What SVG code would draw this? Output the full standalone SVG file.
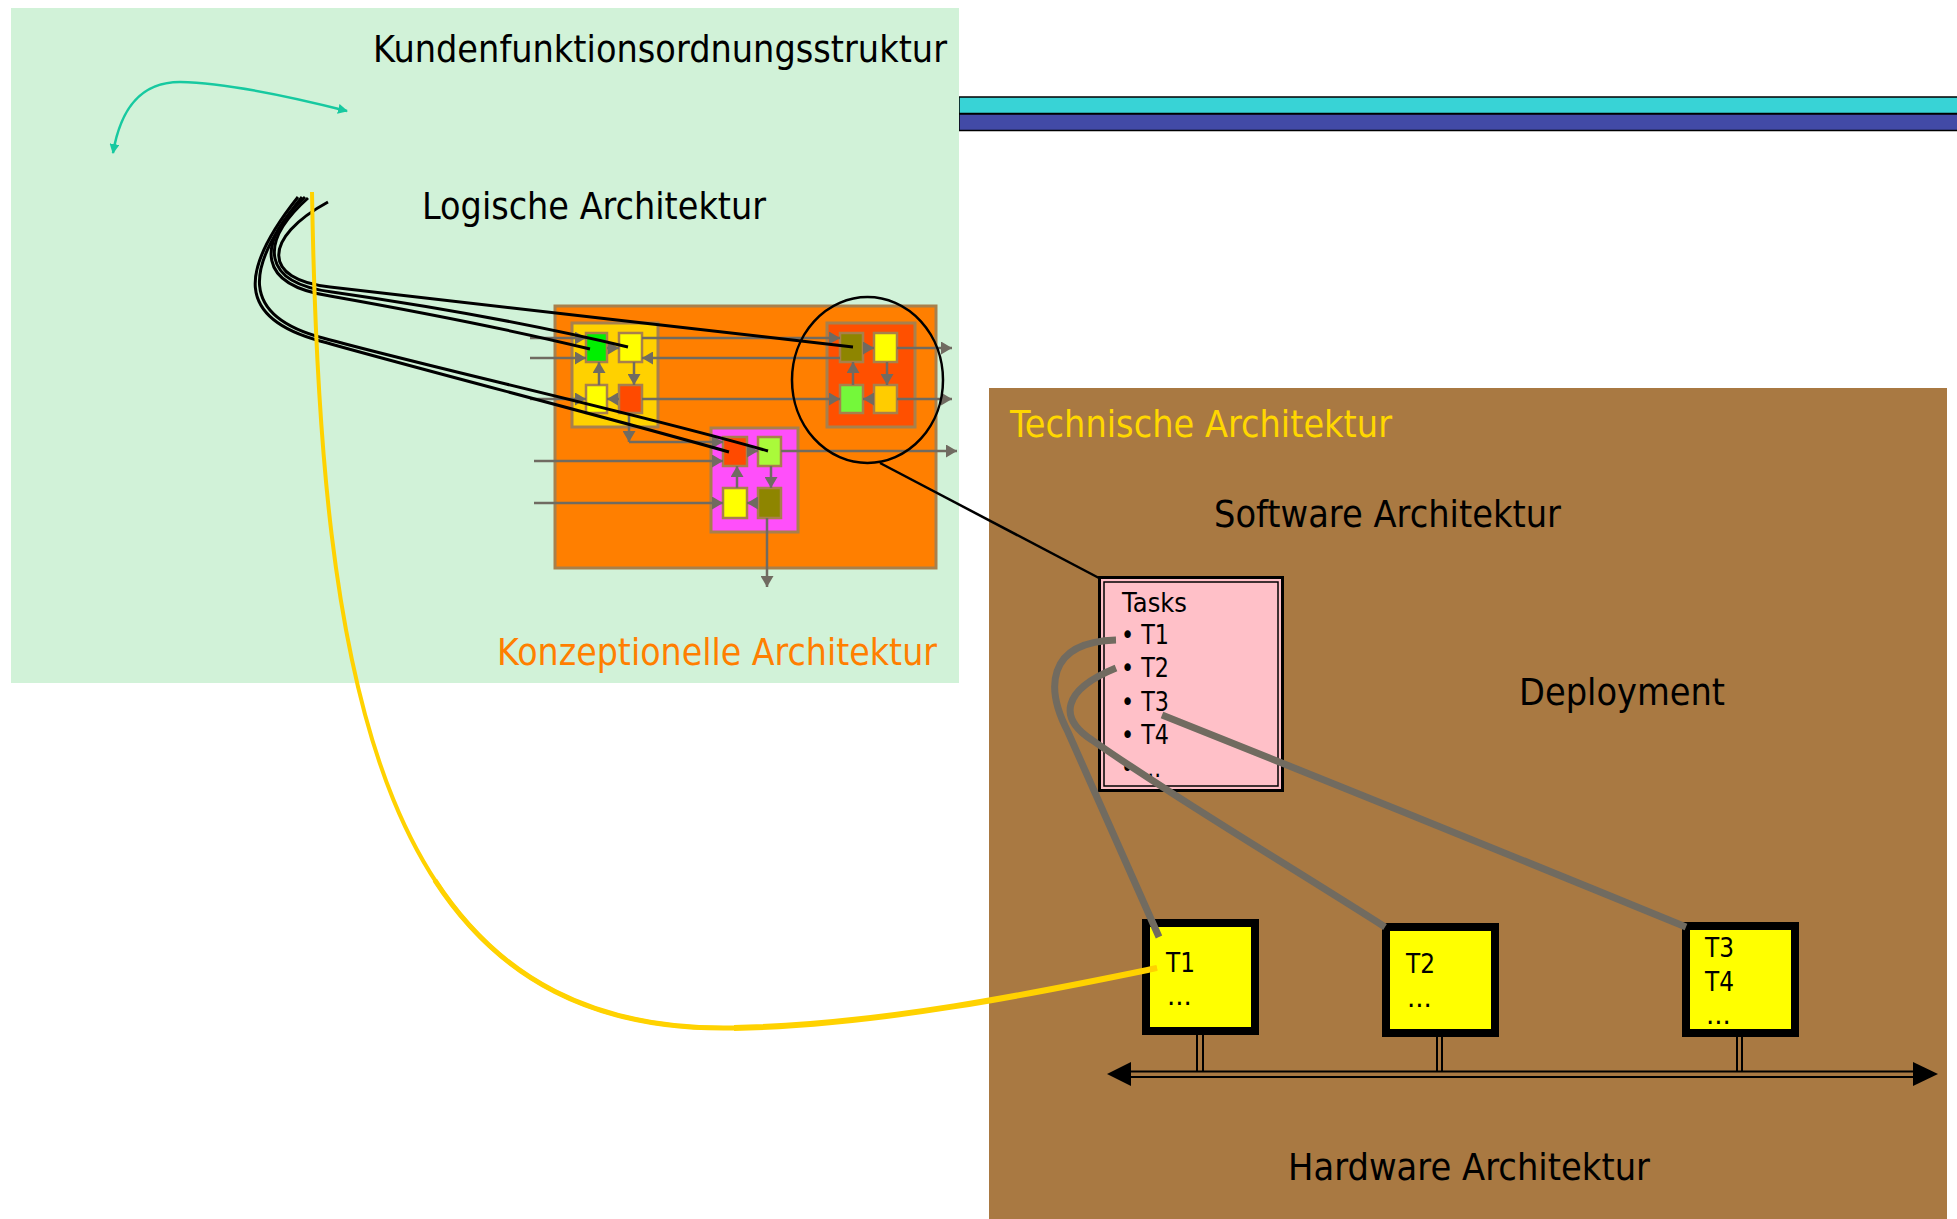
<svg xmlns="http://www.w3.org/2000/svg" width="1957" height="1219" viewBox="0 0 1957 1219">
<style>
text{font-family:"DejaVu Sans","Liberation Sans",sans-serif;}
.big{font-size:38px;fill:#000;}
.sm{font-size:26px;fill:#000;}
.ga{stroke:#706B61;stroke-width:2.5;fill:none;}
.blk{stroke:#000;stroke-width:3;fill:none;}
.gth{stroke:#716B60;stroke-width:7;fill:none;}
.cell{stroke:#A8804C;stroke-width:2.5;}
.sub{stroke:#A8804C;stroke-width:3;}
.hw{fill:#FFFF00;stroke:#000;stroke-width:8;}
.bus{stroke:#000;stroke-width:2;fill:none;}
.yl{fill:none;stroke:#FFD200;}
</style>
<defs>
<marker id="ah" markerUnits="userSpaceOnUse" markerWidth="11" markerHeight="13" refX="11" refY="6.5" orient="auto">
<path d="M0,0 L11,6.5 L0,13 z" fill="#706B61"/>
</marker>
<marker id="tah" markerUnits="userSpaceOnUse" markerWidth="10" markerHeight="10" refX="9" refY="5" orient="auto-start-reverse">
<path d="M0,0 L10,5 L0,10 z" fill="#17C9A0"/>
</marker>
</defs>

<rect width="1957" height="1219" fill="#FFFFFF"/>

<!-- top bars -->
<g id="bars">
<rect x="959" y="97" width="1000" height="16.5" fill="#38D3D6" stroke="#000" stroke-width="1.5"/>
<rect x="959" y="114" width="1000" height="16.5" fill="#424AA6" stroke="#000" stroke-width="1.5"/>
</g>

<!-- green region -->
<g id="kundenfunktion">
<rect x="11" y="8" width="948" height="675" fill="#D1F2D8"/>
<text class="big" x="373" y="62" textLength="574" lengthAdjust="spacingAndGlyphs">Kundenfunktionsordnungsstruktur</text>
<text class="big" x="422" y="219" textLength="344" lengthAdjust="spacingAndGlyphs">Logische Architektur</text>
<text class="big" x="497" y="665" textLength="440" lengthAdjust="spacingAndGlyphs" style="fill:#FF7F00">Konzeptionelle Architektur</text>
</g>

<!-- brown region -->
<g id="technisch">
<rect x="989" y="388" width="958" height="831" fill="#A97942"/>
<text class="big" x="1010" y="437" textLength="382" lengthAdjust="spacingAndGlyphs" style="fill:#FFD700">Technische Architektur</text>
<text class="big" x="1214" y="527" textLength="347" lengthAdjust="spacingAndGlyphs">Software Architektur</text>
<text class="big" x="1519" y="705" textLength="206" lengthAdjust="spacingAndGlyphs">Deployment</text>
<text class="big" x="1288" y="1180" textLength="362" lengthAdjust="spacingAndGlyphs">Hardware Architektur</text>
</g>

<!-- conceptual architecture -->
<g id="konzept">
<rect x="555" y="306" width="381" height="262" fill="#FF7F00" stroke="#A8804C" stroke-width="3"/>
<g id="sub-gold">
<rect class="sub" x="572" y="323" width="86" height="104" fill="#FFD100"/>
<rect class="cell" x="586" y="333" width="21" height="29" fill="#00F000"/>
<rect class="cell" x="619" y="333" width="23" height="29" fill="#FFFF00"/>
<rect class="cell" x="586" y="385" width="21" height="28" fill="#FFFF00"/>
<rect class="cell" x="619" y="385" width="23" height="28" fill="#FF4A00"/>
</g>
<g id="sub-red">
<rect class="sub" x="827" y="323" width="88" height="104" fill="#FF5000"/>
<rect class="cell" x="840" y="333" width="23" height="29" fill="#8E8500"/>
<rect class="cell" x="874" y="333" width="23" height="29" fill="#FFFF00"/>
<rect class="cell" x="840" y="385" width="23" height="28" fill="#74F83A"/>
<rect class="cell" x="874" y="385" width="23" height="28" fill="#FFCC00"/>
</g>
<g id="sub-magenta">
<rect class="sub" x="711" y="428" width="87" height="104" fill="#FF4FFA"/>
<rect class="cell" x="723" y="437" width="24" height="29" fill="#FF4A00"/>
<rect class="cell" x="758" y="437" width="23" height="29" fill="#AAFA3A"/>
<rect class="cell" x="723" y="488" width="24" height="30" fill="#FFFF00"/>
<rect class="cell" x="758" y="488" width="23" height="30" fill="#8E8500"/>
</g>
</g>

<!-- Tasks node -->
<g id="tasks">
<rect x="1099.5" y="577.5" width="183" height="213" fill="#FFC0C8" stroke="#000" stroke-width="3"/>
<rect x="1104" y="582" width="174" height="204" fill="none" stroke="#000" stroke-width="1.5"/>
<text class="sm" x="1122" y="612" textLength="65" lengthAdjust="spacingAndGlyphs">Tasks</text>
<text class="sm" x="1121" y="644" textLength="48" lengthAdjust="spacingAndGlyphs">• T1</text>
<text class="sm" x="1121" y="677" textLength="48" lengthAdjust="spacingAndGlyphs">• T2</text>
<text class="sm" x="1121" y="711" textLength="48" lengthAdjust="spacingAndGlyphs">• T3</text>
<text class="sm" x="1121" y="744" textLength="48" lengthAdjust="spacingAndGlyphs">• T4</text>
<text class="sm" x="1121" y="777" textLength="40" lengthAdjust="spacingAndGlyphs">• ...</text>
</g>

<!-- hardware nodes -->
<g id="hw-t1">
<rect class="hw" x="1146" y="923" width="109" height="108"/>
<text class="sm" x="1166" y="972" textLength="29" lengthAdjust="spacingAndGlyphs">T1</text>
<text class="sm" x="1167" y="1005">...</text>
</g>
<g id="hw-t2">
<rect class="hw" x="1386" y="927" width="109" height="106"/>
<text class="sm" x="1406" y="973" textLength="29" lengthAdjust="spacingAndGlyphs">T2</text>
<text class="sm" x="1407" y="1007">...</text>
</g>
<g id="hw-t3">
<rect class="hw" x="1686" y="926" width="109" height="107"/>
<text class="sm" x="1705" y="957" textLength="29" lengthAdjust="spacingAndGlyphs">T3</text>
<text class="sm" x="1705" y="991" textLength="29" lengthAdjust="spacingAndGlyphs">T4</text>
<text class="sm" x="1706" y="1024">...</text>
</g>

<!-- bus -->
<g id="bus">
<line class="bus" x1="1128" y1="1071.5" x2="1916" y2="1071.5"/>
<line class="bus" x1="1128" y1="1077" x2="1916" y2="1077"/>
<polygon points="1107,1074 1131,1062 1131,1086" fill="#000"/>
<polygon points="1938,1074 1913,1062 1913,1086" fill="#000"/>
<line class="bus" x1="1197" y1="1035" x2="1197" y2="1072"/>
<line class="bus" x1="1203" y1="1035" x2="1203" y2="1072"/>
<line class="bus" x1="1437" y1="1037" x2="1437" y2="1072"/>
<line class="bus" x1="1442" y1="1037" x2="1442" y2="1072"/>
<line class="bus" x1="1737" y1="1037" x2="1737" y2="1072"/>
<line class="bus" x1="1742" y1="1037" x2="1742" y2="1072"/>
</g>

<!-- connectors -->
<g id="connectors">
<!-- gray arrows in conceptual architecture -->
<g class="ga" marker-end="url(#ah)">
<line x1="530" y1="338" x2="586" y2="338"/>
<line x1="530" y1="358" x2="586" y2="358"/>
<line x1="530" y1="399" x2="586" y2="399"/>
<line x1="607" y1="348" x2="619" y2="348"/>
<line x1="642" y1="338" x2="840" y2="338"/>
<line x1="840" y1="358" x2="642" y2="358"/>
<line x1="634" y1="362" x2="634" y2="385"/>
<line x1="599" y1="385" x2="599" y2="362"/>
<line x1="619" y1="399" x2="607" y2="399"/>
<line x1="642" y1="399" x2="840" y2="399"/>
<line x1="629" y1="413" x2="629" y2="442"/>
<line x1="629" y1="442" x2="723" y2="442"/>
<line x1="863" y1="348" x2="874" y2="348"/>
<line x1="897" y1="348" x2="952" y2="348"/>
<line x1="853" y1="385" x2="853" y2="362"/>
<line x1="887" y1="362" x2="887" y2="385"/>
<line x1="874" y1="399" x2="863" y2="399"/>
<line x1="897" y1="399" x2="952" y2="399"/>
<line x1="534" y1="461" x2="723" y2="461"/>
<line x1="534" y1="503" x2="723" y2="503"/>
<line x1="747" y1="451" x2="758" y2="451"/>
<line x1="781" y1="451" x2="957" y2="451"/>
<line x1="771" y1="466" x2="771" y2="488"/>
<line x1="758" y1="503" x2="747" y2="503"/>
<line x1="737" y1="488" x2="737" y2="466"/>
<line x1="767" y1="518" x2="767" y2="587"/>
</g>

<!-- teal arrow -->
<path d="M113,153 C120,112 138,82 180,82 C228,83 288,96 347,111" fill="none" stroke="#17C9A0" stroke-width="2.5" marker-start="url(#tah)" marker-end="url(#tah)"/>

<!-- black curves from logical architecture -->
<path class="blk" d="M298,197 C240,270 235,318 320,341 C430,372 610,418 729,452"/>
<path class="blk" d="M302,197 C244,268 240,316 323,338 C432,368 640,414 768,451"/>
<path class="blk" d="M305,197 C255,245 258,285 330,296 C420,312 520,332 590,349"/>
<path class="blk" d="M308,198 C258,243 262,283 332,292 C430,306 540,326 628,347"/>
<path class="blk" d="M328,202 C262,238 262,280 330,287 C450,300 700,330 853,347"/>

<!-- ellipse selection and link to tasks -->
<ellipse cx="867.5" cy="380" rx="75.5" ry="83" fill="none" stroke="#000" stroke-width="2.5"/>
<line x1="880" y1="463" x2="1099" y2="578" stroke="#000" stroke-width="2.5"/>

<!-- yellow curve -->
<path class="yl" stroke-width="4" d="M312,192 C320,690 380,1035 734,1028 C884,1025 1050,990 1157,968"/>
<path class="yl" stroke-width="5" d="M434.8,880.2 C497.8,977.3 592.4,1030.8 734,1028"/>
<path class="yl" stroke-width="6" d="M734,1028 C884,1025 1050,990 1157,968"/>

<!-- deployment connectors -->
<path class="gth" d="M1116,640 C1045,642 1046,690 1068,732 L1159,937"/>
<path class="gth" d="M1116,668 C1062,690 1058,718 1092,740 C1170,795 1280,860 1385,927"/>
<path class="gth" d="M1162,715 Q1420,818 1686,927"/>
</g>
</svg>
